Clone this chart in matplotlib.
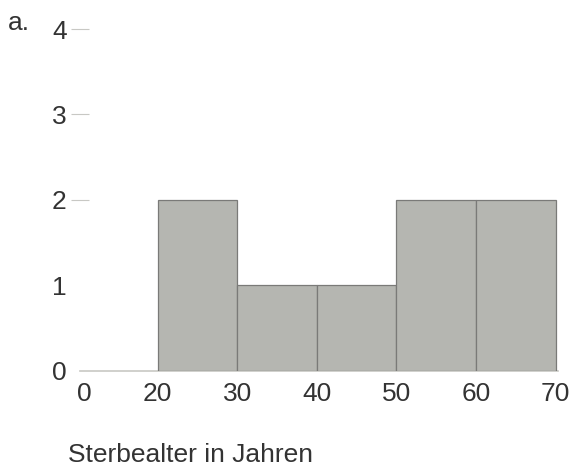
import matplotlib
matplotlib.use("Agg")
import matplotlib.pyplot as plt

# Sterbealter, Klassen von 10 Jahren
bin_edges = [20, 30, 40, 50, 60, 70]
counts = [2, 1, 1, 2, 2]
x_tick_labels = ["0", "20", "30", "40", "50", "60", "70"]
y_ticks = [0, 1, 2, 3, 4]

plt.rcParams['font.family'] = ['Liberation Sans', 'DejaVu Sans']
TEXT = '#333333'

fig = plt.figure(figsize=(5.77, 4.67), dpi=100)
ax = fig.add_axes([0.1386, 0.2056, 0.8284, 0.7323])

widths = [b - a for a, b in zip(bin_edges[:-1], bin_edges[1:])]
ax.bar(bin_edges[:-1], counts, width=widths, align='edge',
       color='#b5b6b1', edgecolor='#7a7a78', linewidth=0.9, zorder=2)

# axis break: the "0" sits closer to 20 than the scale would put it
zero_pos = 10.75
ax.set_xlim(10.25, 70.3)
ax.set_ylim(0, 4)
ax.set_xticks([zero_pos] + bin_edges)
ax.set_xticklabels(x_tick_labels)
ax.set_yticks(y_ticks)
ax.set_yticklabels([str(v) for v in y_ticks])

for s in ['top', 'right', 'left']:
    ax.spines[s].set_visible(False)
ax.spines['bottom'].set_color('#c8c8c4')
ax.spines['bottom'].set_linewidth(1.2)
ax.spines['bottom'].set_zorder(1)

ax.tick_params(axis='x', length=0, pad=8, labelsize=19, labelcolor=TEXT)
ax.tick_params(axis='y', direction='inout', length=13, width=0.8,
               color='#c8c8c4', pad=3, labelsize=19, labelcolor=TEXT)
# only 2, 3 and 4 have a tick mark
for tick, v in zip(ax.yaxis.get_major_ticks(), y_ticks):
    if v < 2:
        tick.tick1line.set_visible(False)

fig.text(0.118, 0.0107, 'Sterbealter in Jahren', fontsize=19, color=TEXT,
         va='baseline')
fig.text(0.014, 0.936, 'a.', fontsize=19, color=TEXT, va='baseline')

fig.savefig('out.png', dpi=100)
